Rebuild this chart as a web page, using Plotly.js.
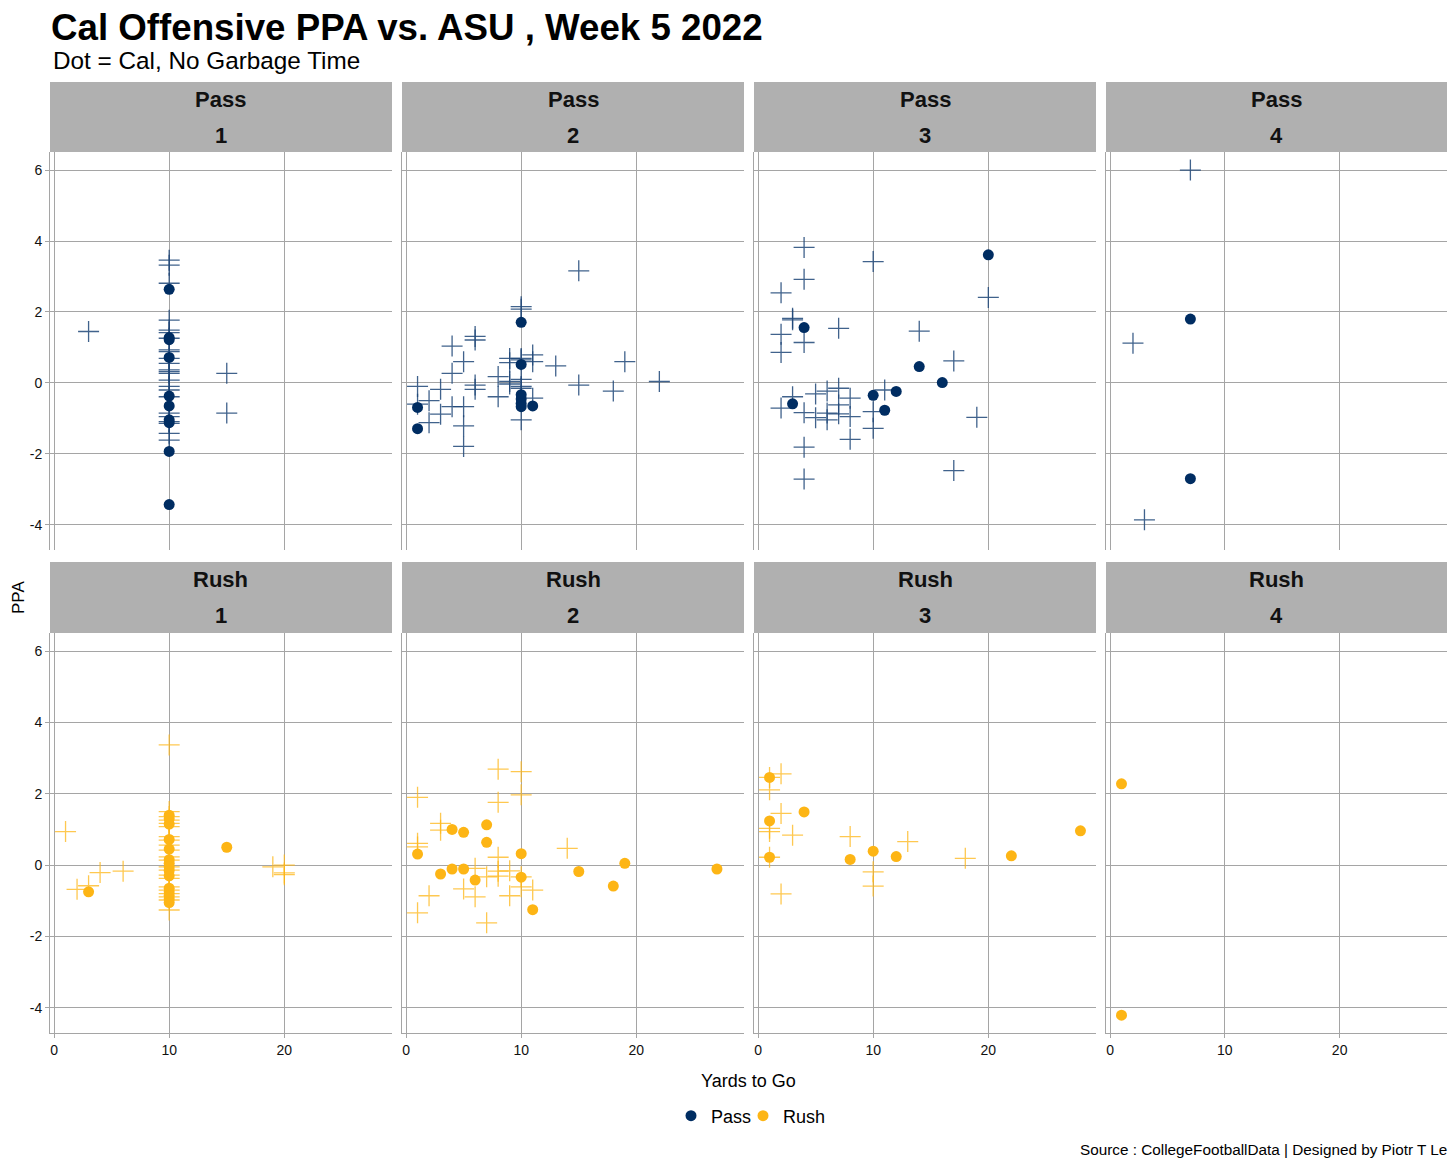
<!DOCTYPE html>
<html>
<head>
<meta charset="utf-8">
<script src="https://cdn.plot.ly/plotly-3.0.1.min.js"></script>
<style>html,body{margin:0;padding:0;background:#fff;}#chart{width:1456px;height:1165px;}</style>
</head>
<body>
<div id="chart"></div>
<script>
// ---------- DATA : [yards to go, PPA] ----------
const downs = [1, 2, 3, 4];
const playTypes = ["Pass", "Rush"];
const xTicks = [0, 10, 20];
const yTicks = [-4, -2, 0, 2, 4, 6];

// Pass plays, Cal (dots)
const passCalDown1 = [[10,2.64],[10,1.28],[10,1.22],[10,0.72],[10,-0.37],[10,-0.65],[10,-1.04],[10,-1.12],[10,-1.93],[10,-3.43]];
const passCalDown2 = [[1,-0.69],[1,-1.29],[10,1.71],[10,0.52],[10,-0.33],[10,-0.45],[10,-0.58],[10,-0.67],[11,-0.65]];
const passCalDown3 = [[20,3.61],[4,1.56],[14,0.46],[16,0.01],[10,-0.35],[12,-0.24],[11,-0.77],[3,-0.59]];
const passCalDown4 = [[7,1.80],[7,-2.70]];

// Pass plays, ASU (crosses)
const passAsuDown1 = [[3,1.45],[15,0.27],[15,-0.85],
  [10,3.46],[10,3.32],[10,2.81],[10,1.77],[10,1.49],[10,1.42],[10,1.26],[10,0.93],[10,0.88],[10,0.69],
  [10,0.55],[10,0.37],[10,0.32],[10,0.27],[10,0.08],[10,-0.10],[10,-0.20],[10,-0.39],[10,-0.85],[10,-0.95],
  [10,-1.09],[10,-1.14],[10,-1.42],[10,-1.61]];
const passAsuDown2 = [[1,-0.10],[1,-0.60],[2,-0.50],[2,-1.12],[3,-0.18],[3,-0.88],[4,1.04],[4,0.27],[4,-0.67],
  [5,0.60],[5,-0.67],[5,-1.21],[5,-1.79],[6,1.31],[6,1.21],[6,-0.06],[6,-0.18],[8,0.18],[8,-0.39],
  [9,0.69],[9,0.57],[9,0.04],[9,-0.03],[10,2.15],[10,2.08],[10,0.69],[10,0.65],[10,0.10],[10,-0.10],
  [10,-0.15],[10,-1.04],[11,0.79],[11,0.60],[11,-0.43],[13,0.48],[15,3.16],[15,-0.06],[18,-0.23],[19,0.60],[22,0.04]];
const passAsuDown3 = [[4,3.82],[10,3.42],[4,2.92],[2,2.54],[20,2.41],[3,1.82],[3,1.78],[7,1.54],[14,1.46],
  [2,1.37],[4,1.14],[2,0.86],[17,0.62],[11,-0.20],[6,-0.23],[7,-0.15],[5,-0.31],[8,-0.43],[3,-0.39],
  [2,-0.71],[4,-0.84],[5,-0.98],[6,-0.85],[6,-1.04],[7,-0.62],[7,-0.87],[8,-0.95],[10,-0.81],[10,-1.28],
  [8,-1.59],[19,-0.97],[4,-1.81],[17,-2.47],[4,-2.71]];
const passAsuDown4 = [[7,6.00],[2,1.12],[3,-3.86]];

// Rush plays, Cal (dots)
const rushCalDown1 = [[3,-0.75],[15,0.50],
  [10,1.40],[10,1.30],[10,1.15],[10,0.72],[10,0.45],[10,0.15],[10,0.05],[10,-0.05],
  [10,-0.15],[10,-0.30],[10,-0.65],[10,-0.75],[10,-0.85],[10,-0.95],[10,-1.05]];
const rushCalDown2 = [[1,0.31],[3,-0.25],[4,1.00],[4,-0.11],[5,0.92],[5,-0.11],[6,-0.42],[7,1.13],[7,0.64],
  [10,0.32],[10,-0.34],[11,-1.25],[15,-0.18],[18,-0.59],[19,0.05],[27,-0.11]];
const rushCalDown3 = [[1,2.46],[1,1.24],[1,0.22],[4,1.49],[8,0.16],[10,0.39],[12,0.24],[22,0.26],[28,0.96]];
const rushCalDown4 = [[1,2.28],[1,-4.21]];

// Rush plays, ASU (crosses)
const rushAsuDown1 = [[1,0.94],[2,-0.68],[3,-0.58],[4,-0.21],[6,-0.17],[10,3.37],
  [10,1.50],[10,1.36],[10,1.26],[10,1.17],[10,1.08],[10,0.80],[10,0.70],[10,0.56],[10,0.42],[10,0.23],
  [10,0.14],[10,-0.05],[10,-0.14],[10,-0.28],[10,-0.37],[10,-0.61],[10,-0.70],[10,-0.80],[10,-0.89],
  [10,-0.98],[10,-1.26],[19,-0.05],[20,0.00],[20,-0.22],[20,-0.27]];
const rushAsuDown2 = [[1,1.90],[1,0.61],[1,0.51],[1,-1.34],[2,-0.86],[3,1.17],[3,0.98],[5,-0.67],[6,-0.09],
  [6,-0.89],[7,-0.33],[7,-1.62],[8,2.69],[8,1.76],[8,0.22],[8,-0.17],[8,-0.31],[9,-0.16],[9,-0.86],
  [10,2.62],[10,1.97],[10,-0.33],[10,-0.61],[11,-0.70],[14,0.47]];
const rushAsuDown3 = [[1,2.46],[2,2.56],[1,2.11],[2,1.45],[1,1.03],[1,0.94],[3,0.84],[8,0.80],[13,0.66],
  [18,0.19],[10,-0.19],[10,-0.59],[2,-0.81],[1,0.22]];
const rushAsuDown4 = [];

// ---------- STYLE ----------
const FONT = "Liberation Sans, Arial, Helvetica, sans-serif";
const colors = {Pass: "#002D62", Rush: "#FDB515"};
const crossColors = {Pass: "rgba(30,70,120,0.85)", Rush: "rgba(253,181,21,0.75)"};
const GRID = "#A5A5A5";
const W = 1456, H = 1165;
const colL = [50, 402, 754, 1106], colR = [392, 744, 1096, 1447];
const rowT = [152, 633], rowB = [550, 1033], stripT = [82, 562];

const calSets = {Pass: [passCalDown1, passCalDown2, passCalDown3, passCalDown4],
                 Rush: [rushCalDown1, rushCalDown2, rushCalDown3, rushCalDown4]};
const asuSets = {Pass: [passAsuDown1, passAsuDown2, passAsuDown3, passAsuDown4],
                 Rush: [rushAsuDown1, rushAsuDown2, rushAsuDown3, rushAsuDown4]};

const traces = [], layout = {
  width: W, height: H, margin: {l: 0, r: 0, t: 0, b: 0},
  paper_bgcolor: "#fff", plot_bgcolor: "#fff",
  font: {family: FONT, color: "#000"},
  showlegend: true,
  legend: {orientation: "h", x: 779 / W, xanchor: "center", y: 1 - 1116 / H, yanchor: "middle",
           font: {size: 18, family: FONT, color: "#000"}, itemwidth: 30, tracegroupgap: 0,
           entrywidth: 27, entrywidthmode: "pixels", bgcolor: "rgba(0,0,0,0)"},
  title: {text: "<b>Cal Offensive PPA vs. ASU , Week 5 2022</b>", x: 51 / W, xanchor: "left", xref: "paper",
          y: 1 - 27 / H, yanchor: "middle", yref: "paper", font: {size: 36.7, family: FONT, color: "#000"}},
  shapes: [], annotations: []
};

playTypes.forEach((pt, r) => {
  downs.forEach((d, c) => {
    const idx = r * 4 + c + 1;
    const xa = "x" + (idx === 1 ? "" : idx), ya = "y" + (idx === 1 ? "" : idx);
    const xk = "xaxis" + (idx === 1 ? "" : idx), yk = "yaxis" + (idx === 1 ? "" : idx);
    layout[xk] = {
      domain: [colL[c] / W, colR[c] / W], anchor: ya, range: [-0.35, 29.35],
      tickvals: xTicks, ticktext: xTicks.map(String), showgrid: true, gridcolor: GRID, gridwidth: 1,
      zeroline: false, showline: r === 1, linecolor: GRID, linewidth: 1,
      ticks: r === 1 ? "outside" : "", ticklen: 4, tickcolor: GRID,
      showticklabels: r === 1, tickfont: {size: 14, family: FONT, color: "#111"}, fixedrange: true
    };
    layout[yk] = {
      domain: [1 - rowB[r] / H, 1 - rowT[r] / H], anchor: xa, range: [-4.71, 6.51],
      tickvals: yTicks, ticktext: yTicks.map(String), showgrid: true, gridcolor: GRID, gridwidth: 1,
      zeroline: false, showline: true, linecolor: GRID, linewidth: 1,
      ticks: c === 0 ? "outside" : "", ticklen: 4, tickcolor: GRID,
      showticklabels: c === 0, tickfont: {size: 14, family: FONT, color: "#111"}, fixedrange: true
    };
    const a = asuSets[pt][c];
    traces.push({type: "scatter", mode: "markers", x: a.map(p => p[0]), y: a.map(p => p[1]), xaxis: xa, yaxis: ya,
      name: pt + " ASU", showlegend: false, hoverinfo: "skip",
      marker: {symbol: "cross-thin-open", size: 15, color: crossColors[pt], line: {width: 1.3, color: crossColors[pt]}}});
    const b = calSets[pt][c];
    traces.push({type: "scatter", mode: "markers", x: b.map(p => p[0]), y: b.map(p => p[1]), xaxis: xa, yaxis: ya,
      name: pt, legendgroup: pt, showlegend: c === 0,
      marker: {symbol: "circle", size: 11, color: colors[pt], line: {width: 0}}});
    // strip
    layout.shapes.push({type: "rect", xref: "paper", yref: "paper", layer: "below",
      x0: colL[c] / W, x1: colR[c] / W, y0: 1 - rowT[r] / H, y1: 1 - stripT[r] / H,
      fillcolor: "#B0B0B0", line: {width: 0}});
    const cx = (colL[c] + colR[c]) / 2 / W;
    layout.annotations.push({xref: "paper", yref: "paper", x: cx, y: 1 - (stripT[r] + 17) / H,
      text: "<b>" + pt + "</b>", showarrow: false, xanchor: "center", yanchor: "middle",
      font: {size: 22, family: FONT, color: "#111"}});
    layout.annotations.push({xref: "paper", yref: "paper", x: cx, y: 1 - (stripT[r] + 53) / H,
      text: "<b>" + d + "</b>", showarrow: false, xanchor: "center", yanchor: "middle",
      font: {size: 22, family: FONT, color: "#111"}});
  });
});

// empty spacer entry so the last legend label is not clipped
traces.push({type: "scatter", mode: "markers", x: [null], y: [null], name: " ", showlegend: true,
  hoverinfo: "skip", marker: {color: "rgba(0,0,0,0)", size: 1}});

layout.annotations.push(
  {xref: "paper", yref: "paper", x: 51 / W, y: 1 - 61 / H, xanchor: "left", yanchor: "middle", showarrow: false,
   text: "Dot = Cal, No Garbage Time", font: {size: 24.3, family: FONT, color: "#000"}},
  {xref: "paper", yref: "paper", x: 18 / W, y: 1 - 598 / H, xanchor: "center", yanchor: "middle", showarrow: false,
   text: "PPA", textangle: -90, font: {size: 17, family: FONT, color: "#000"}},
  {xref: "paper", yref: "paper", x: 749 / W, y: 1 - 1081 / H, xanchor: "center", yanchor: "middle", showarrow: false,
   text: "Yards to Go", font: {size: 18, family: FONT, color: "#000"}},
  {xref: "paper", yref: "paper", x: 1449 / W, y: 1 - 1149 / H, xanchor: "right", yanchor: "middle", showarrow: false,
   text: "Source : CollegeFootballData | Designed by Piotr T Le", font: {size: 15.3, family: FONT, color: "#000"}}
);

Plotly.newPlot("chart", traces, layout, {displayModeBar: false, staticPlot: true});
</script>
</body>
</html>
